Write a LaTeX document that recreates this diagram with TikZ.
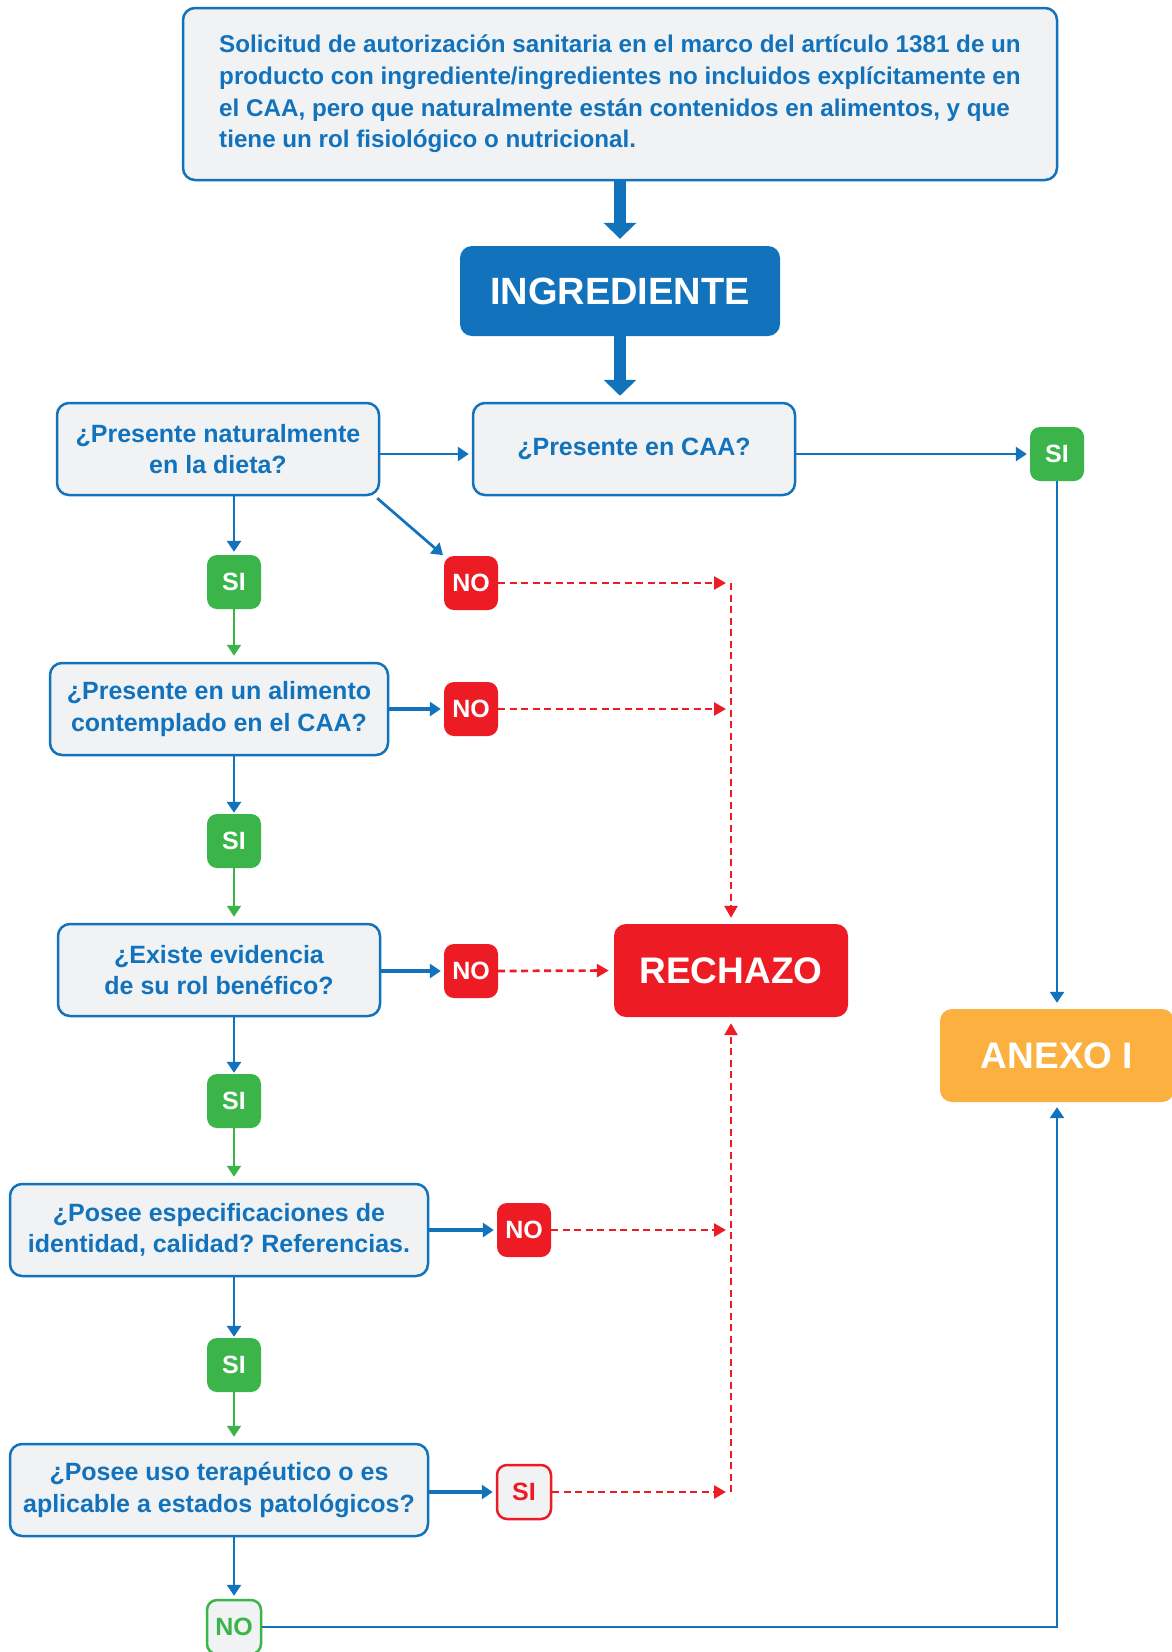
\documentclass[tikz,border=0pt]{standalone}
\usepackage{fontspec}
\setmainfont{Liberation Sans}
\usetikzlibrary{arrows.meta}
\definecolor{cblue}{HTML}{1273BC}
\definecolor{cgray}{HTML}{F1F2F4}
\definecolor{cgreen}{HTML}{3BB54A}
\definecolor{cred}{HTML}{ED1C24}
\definecolor{corange}{HTML}{FBB040}
\frenchspacing
\begin{document}
\begin{tikzpicture}[x=1pt,y=-1pt,
  qbox/.style={draw=cblue,line width=2.5pt,fill=cgray,rounded corners=12pt,text=cblue,align=center,inner sep=0pt,minimum height=92pt,font=\bfseries\fontsize{25}{31.6}\selectfont},
  bigbox/.style={rounded corners=12pt,text=white,inner sep=0pt,minimum width=234pt,minimum height=93pt,font=\bfseries\fontsize{37}{40}\selectfont},
  pill/.style={rounded corners=10pt,minimum width=54pt,minimum height=54pt,inner sep=0pt,font=\bfseries\fontsize{25}{25}\selectfont},
  gpill/.style={pill,fill=cgreen,text=white},
  rpill/.style={pill,fill=cred,text=white},
  bigarrow/.style={draw=cblue,line width=12pt,-{Triangle[length=16pt,width=32pt]}},
  barrow/.style={draw=cblue,line width=2.7pt,-{Triangle[length=11pt,width=14pt]},shorten >=3pt},
  harrow/.style={barrow,line width=3.2pt},
  garrow/.style={draw=cgreen,line width=2.3pt,-{Triangle[length=11pt,width=14pt]},shorten >=6pt},
  rdash/.style={draw=cred,line width=2.7pt,dash pattern=on 7pt off 4.5pt,-{Triangle[length=12pt,width=13pt]},shorten >=5pt}
]
\clip (0,0) rectangle (1172,1652);
\fill[white] (0,0) rectangle (1172,1652);

% top box
\node[qbox,minimum width=874pt,minimum height=172pt,align=left,font=\bfseries\fontsize{24.2}{31.6}\selectfont] (top) at (620,94)
  {Solicitud de autorización sanitaria en el marco del artículo 1381 de un\\
   producto con ingrediente/ingredientes no incluidos explícitamente en\\
   el CAA, pero que naturalmente están contenidos en alimentos, y que\\
   tiene un rol fisiológico o nutricional.};

\node[bigbox,fill=cblue,minimum width=320pt,minimum height=90pt,font=\bfseries\fontsize{38}{40}\selectfont] (ingr) at (620,291) {INGREDIENTE};

\node[qbox,minimum width=322pt] (caa) at (634,449) {¿Presente en CAA?};
\node[qbox,minimum width=322pt] (dieta) at (218,449) {¿Presente naturalmente\\en la dieta?};
\node[qbox,minimum width=338pt] (box2) at (219,709) {¿Presente en un alimento\\contemplado en el CAA?};
\node[qbox,minimum width=322pt] (box3) at (219,970) {¿Existe evidencia\\de su rol benéfico?};
\node[qbox,minimum width=418pt] (box4) at (219,1230) {¿Posee especificaciones de\\identidad, calidad? Referencias.};
\node[qbox,minimum width=418pt] (box5) at (219,1490) {¿Posee uso terapéutico o es\\aplicable a estados patológicos?};

\node[bigbox,fill=cred] (rech) at (731,970.5) {RECHAZO};
\node[bigbox,fill=corange] (anexo) at (1057,1055.5) {ANEXO I};

% pills
\node[gpill] (si0) at (1057,454) {SI};
\node[gpill] (si1) at (234,582) {SI};
\node[rpill] (no1) at (471,583) {NO};
\node[rpill] (no2) at (471,709) {NO};
\node[gpill] (si2) at (234,841) {SI};
\node[rpill] (no3) at (471,971) {NO};
\node[gpill] (si3) at (234,1101) {SI};
\node[rpill] (no4) at (524,1230) {NO};
\node[gpill] (si4) at (234,1365) {SI};
\node[pill,fill=cgray,draw=cred,line width=2.5pt,text=cred] (si5) at (524,1492) {SI};
\node[pill,fill=cgray,draw=cgreen,line width=2.5pt,text=cgreen] (no5) at (234,1627) {NO};

% thick arrows
\draw[bigarrow,shorten >=7pt] (top.south) -- (ingr.north);
\draw[bigarrow,shorten >=6pt] (ingr.south) -- (ingr.south |- caa.north);

% blue connectors
\draw[barrow] (dieta.east |- si0) -- (caa.west |- si0);
\draw[barrow] (caa.east |- si0) -- (si0.west);
\draw[barrow,shorten >=6pt] (si0.south) -- (anexo.north);
\draw[barrow] (si1 |- dieta.south) -- (si1.north);
\draw[barrow,shorten >=1pt] ([shift={(-3pt,-2pt)}]dieta.south east) -- (no1.north west);
\draw[harrow] (box2.east |- no2) -- (no2.west);
\draw[barrow,shorten >=1pt] (si2 |- box2.south) -- (si2.north);
\draw[harrow] (box3.east |- no3) -- (no3.west);
\draw[barrow,shorten >=1pt] (si3 |- box3.south) -- (si3.north);
\draw[harrow] (box4.east |- no4) -- (no4.west);
\draw[barrow,shorten >=1pt] (si4 |- box4.south) -- (si4.north);
\draw[harrow] (box5.east |- si5) -- (si5.west);
\draw[barrow] (no5 |- box5.south) -- (no5.north);
\draw[barrow,shorten >=5pt] (no5.east) -| (anexo.south);

% green connectors
\draw[garrow] (si1.south) -- (si1 |- box2.north);
\draw[garrow] (si2.south) -- (si2 |- box3.north);
\draw[garrow] (si3.south) -- (si3 |- box4.north);
\draw[garrow] (si4.south) -- (si4 |- box5.north);

% red dashed connectors
\coordinate (j1) at (rech.north |- no1);
\coordinate (j2) at (rech.north |- no2);
\coordinate (j4) at (rech.south |- no4);
\coordinate (j5) at (rech.south |- si5);
\draw[rdash] (no1.east) -- (j1);
\draw[rdash] (no2.east) -- (j2);
\draw[rdash] (no3.east) -- (rech.west);
\draw[rdash] (no4.east) -- (j4);
\draw[rdash] (si5.east) -- (j5);
\draw[rdash,shorten >=6pt] (j1) -- (rech.north);
\draw[rdash,shorten >=6pt] (j5) -- (rech.south);
\end{tikzpicture}
\end{document}
